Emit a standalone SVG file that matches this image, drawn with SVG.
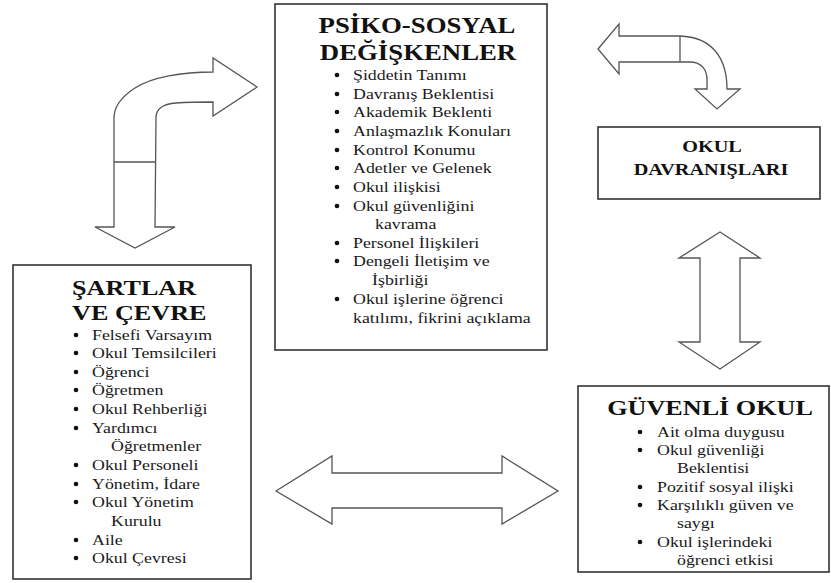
<svg xmlns="http://www.w3.org/2000/svg" width="831" height="583" viewBox="0 0 831 583">
  <style>
    .box { fill: #ffffff; stroke: #333333; stroke-width: 1.6; }
    .arrow { fill: #ffffff; stroke: #555555; stroke-width: 1.3; stroke-linejoin: miter; }
    .seam { fill: none; stroke: #555555; stroke-width: 1.3; }
    .title { font-family: "Liberation Serif", "Times New Roman", serif; font-weight: bold; fill: #111111; }
    .item { font-family: "Liberation Serif", "Times New Roman", serif; font-size: 15px; fill: #1a1a1a; }
    .dot { fill: #111111; }
    .mid { text-anchor: middle; }
  </style>
  <rect width="831" height="583" fill="#ffffff"/>

  <!-- connectors: block arrows between the boxes -->
  <g id="connectors">
    <!-- bent arrow: left box up to the psycho-social box -->
    <path class="arrow" d="M257,87 L213,58 L213,72 C182,72 152,77 135,88 C121,97 114,106 114,118 L114,227 L95,227 L135,248 L175,227 L155,227 L156,118 C156,108 163,104 176,103 C190,102 203,102 213,102 L213,116 Z"/>
    <path class="seam" d="M114,162 H156"/>
    <!-- bent arrow: psycho-social box and school behaviour -->
    <path class="arrow" d="M598,49 L619,24 L619,36 L680,36 C712,37 727,58 727,89 L740,89 L717,109 L695,89 L707,89 L707,80 C707,68 700,62 690,62 L680,62 L619,62 L619,74 Z"/>
    <path class="seam" d="M680,36 V62"/>
    <!-- vertical double arrow -->
    <path class="arrow" d="M720,232 L760,258 L740,258 L740,342 L760,342 L720,369 L679,342 L700,342 L700,258 L679,258 Z"/>
    <!-- horizontal double arrow -->
    <path class="arrow" d="M276,491 L332,456 L332,473 L502,473 L502,456 L558,491 L502,524 L502,508 L332,508 L332,524 Z"/>
  </g>

  <!-- psycho-social variables -->
  <g id="psiko-sosyal">
    <rect class="box" x="275" y="4" width="272" height="346"/>
    <text class="title mid" font-size="22.5" transform="translate(417,33) scale(1.19,1)">PSİKO-SOSYAL</text>
    <text class="title mid" font-size="22.5" transform="translate(418,60) scale(1.19,1)">DEĞİŞKENLER</text>
    <g>
      <circle class="dot" cx="337" cy="75" r="2.3"/>
      <circle class="dot" cx="337" cy="94" r="2.3"/>
      <circle class="dot" cx="337" cy="112" r="2.3"/>
      <circle class="dot" cx="337" cy="131" r="2.3"/>
      <circle class="dot" cx="337" cy="150" r="2.3"/>
      <circle class="dot" cx="337" cy="168" r="2.3"/>
      <circle class="dot" cx="337" cy="187" r="2.3"/>
      <circle class="dot" cx="337" cy="206" r="2.3"/>
      <circle class="dot" cx="337" cy="243" r="2.3"/>
      <circle class="dot" cx="337" cy="261" r="2.3"/>
      <circle class="dot" cx="337" cy="299" r="2.3"/>
    </g>
    <text class="item" transform="translate(353,80) scale(1.19,1)">Şiddetin Tanımı</text>
    <text class="item" transform="translate(353,99) scale(1.19,1)">Davranış Beklentisi</text>
    <text class="item" transform="translate(353,117) scale(1.19,1)">Akademik Beklenti</text>
    <text class="item" transform="translate(353,136) scale(1.19,1)">Anlaşmazlık Konuları</text>
    <text class="item" transform="translate(353,155) scale(1.19,1)">Kontrol Konumu</text>
    <text class="item" transform="translate(353,173) scale(1.19,1)">Adetler ve Gelenek</text>
    <text class="item" transform="translate(353,192) scale(1.19,1)">Okul ilişkisi</text>
    <text class="item" transform="translate(353,211) scale(1.19,1)">Okul güvenliğini</text>
    <text class="item" transform="translate(375,229) scale(1.19,1)">kavrama</text>
    <text class="item" transform="translate(353,248) scale(1.19,1)">Personel İlişkileri</text>
    <text class="item" transform="translate(353,266) scale(1.19,1)">Dengeli İletişim ve</text>
    <text class="item" transform="translate(372,285) scale(1.19,1)">İşbirliği</text>
    <text class="item" transform="translate(353,304) scale(1.19,1)">Okul işlerine öğrenci</text>
    <text class="item" transform="translate(353,323) scale(1.19,1)">katılımı, fikrini açıklama</text>
  </g>

  <!-- school behaviour -->
  <g id="okul-davranislari">
    <rect class="box" x="598" y="127" width="222" height="72"/>
    <text class="title mid" font-size="17" transform="translate(712,152) scale(1.19,1)">OKUL</text>
    <text class="title mid" font-size="17" transform="translate(711,175) scale(1.19,1)">DAVRANIŞLARI</text>
  </g>

  <!-- conditions and environment -->
  <g id="sartlar-ve-cevre">
    <rect class="box" x="13" y="265" width="238" height="314"/>
    <text class="title" font-size="22" transform="translate(72,295) scale(1.19,1)">ŞARTLAR</text>
    <text class="title" font-size="22" transform="translate(72,320) scale(1.19,1)">VE ÇEVRE</text>
    <g>
      <circle class="dot" cx="76" cy="335" r="2.3"/>
      <circle class="dot" cx="76" cy="353" r="2.3"/>
      <circle class="dot" cx="76" cy="372" r="2.3"/>
      <circle class="dot" cx="76" cy="390" r="2.3"/>
      <circle class="dot" cx="76" cy="409" r="2.3"/>
      <circle class="dot" cx="76" cy="428" r="2.3"/>
      <circle class="dot" cx="76" cy="465" r="2.3"/>
      <circle class="dot" cx="76" cy="484" r="2.3"/>
      <circle class="dot" cx="76" cy="502" r="2.3"/>
      <circle class="dot" cx="76" cy="540" r="2.3"/>
      <circle class="dot" cx="76" cy="558" r="2.3"/>
    </g>
    <text class="item" transform="translate(92,340) scale(1.19,1)">Felsefi Varsayım</text>
    <text class="item" transform="translate(92,358) scale(1.19,1)">Okul Temsilcileri</text>
    <text class="item" transform="translate(92,377) scale(1.19,1)">Öğrenci</text>
    <text class="item" transform="translate(92,395) scale(1.19,1)">Öğretmen</text>
    <text class="item" transform="translate(92,414) scale(1.19,1)">Okul Rehberliği</text>
    <text class="item" transform="translate(92,433) scale(1.19,1)">Yardımcı</text>
    <text class="item" transform="translate(111,451) scale(1.19,1)">Öğretmenler</text>
    <text class="item" transform="translate(92,470) scale(1.19,1)">Okul Personeli</text>
    <text class="item" transform="translate(92,489) scale(1.19,1)">Yönetim, İdare</text>
    <text class="item" transform="translate(92,507) scale(1.19,1)">Okul Yönetim</text>
    <text class="item" transform="translate(111,526) scale(1.19,1)">Kurulu</text>
    <text class="item" transform="translate(92,545) scale(1.19,1)">Aile</text>
    <text class="item" transform="translate(92,563) scale(1.19,1)">Okul Çevresi</text>
  </g>

  <!-- safe school -->
  <g id="guvenli-okul">
    <rect class="box" x="578" y="386" width="251" height="186"/>
    <text class="title mid" font-size="22" transform="translate(710,415) scale(1.19,1)">GÜVENLİ OKUL</text>
    <g>
      <circle class="dot" cx="640" cy="432" r="2.3"/>
      <circle class="dot" cx="640" cy="450" r="2.3"/>
      <circle class="dot" cx="640" cy="487" r="2.3"/>
      <circle class="dot" cx="640" cy="505" r="2.3"/>
      <circle class="dot" cx="640" cy="542" r="2.3"/>
    </g>
    <text class="item" transform="translate(657,437) scale(1.19,1)">Ait olma duygusu</text>
    <text class="item" transform="translate(657,455) scale(1.19,1)">Okul güvenliği</text>
    <text class="item" transform="translate(677,473) scale(1.19,1)">Beklentisi</text>
    <text class="item" transform="translate(657,492) scale(1.19,1)">Pozitif sosyal ilişki</text>
    <text class="item" transform="translate(657,510) scale(1.19,1)">Karşılıklı güven ve</text>
    <text class="item" transform="translate(677,528) scale(1.19,1)">saygı</text>
    <text class="item" transform="translate(657,547) scale(1.19,1)">Okul işlerindeki</text>
    <text class="item" transform="translate(677,565) scale(1.19,1)">öğrenci etkisi</text>
  </g>
</svg>
